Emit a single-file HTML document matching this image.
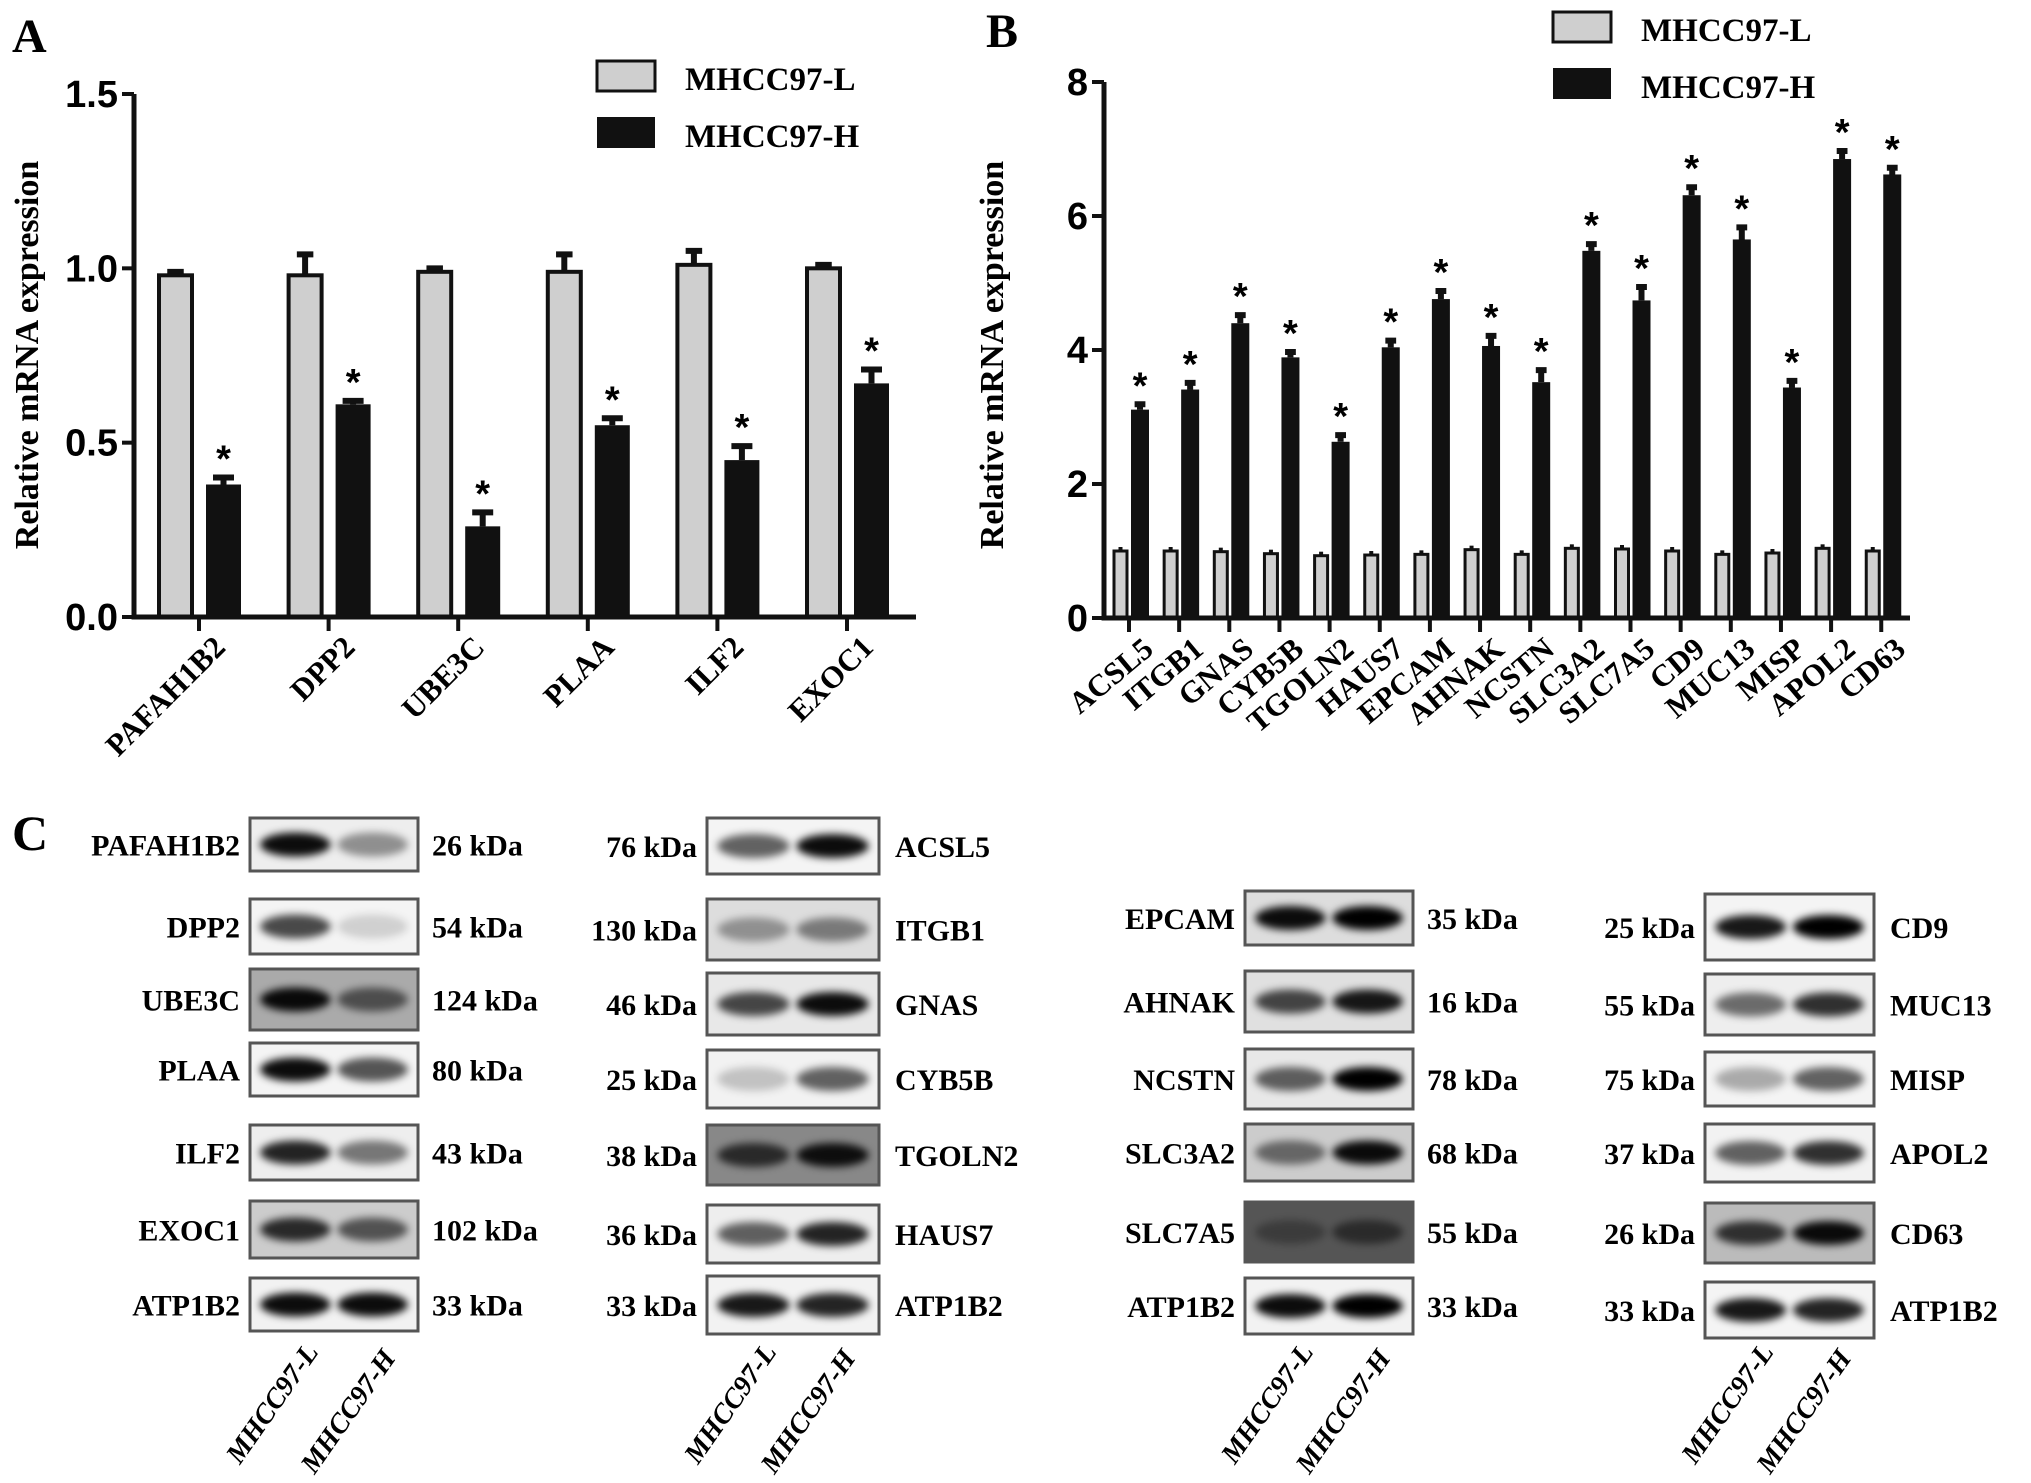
<!DOCTYPE html>
<html><head><meta charset="utf-8"><style>
html,body{margin:0;padding:0;background:#fff;}
svg{display:block;}
.serif{font-family:"Liberation Serif",serif;font-weight:bold;}
.sans{font-family:"Liberation Sans",sans-serif;font-weight:bold;}
</style></head><body>
<svg id="fig" width="2031" height="1483" viewBox="0 0 2031 1483" xmlns="http://www.w3.org/2000/svg">
<defs><filter id="blur" x="-50%" y="-100%" width="200%" height="300%"><feGaussianBlur stdDeviation="4"/></filter></defs>
<g id="panelA"></g>
<g id="panelB"></g>
<g id="panelC"></g>
</svg>
<script>
// Panel A data
const catsA = ["PAFAH1B2","DPP2","UBE3C","PLAA","ILF2","EXOC1"];
const lowA = [0.98,0.98,0.99,0.99,1.01,1.00];
const lowErrA = [0.01,0.06,0.01,0.05,0.04,0.01];
const highA = [0.38,0.61,0.26,0.55,0.45,0.67];
const highErrA = [0.02,0.01,0.04,0.02,0.04,0.04];
const ticksA = ["0.0","0.5","1.0","1.5"];
// Panel B data
const catsB = ["ACSL5","ITGB1","GNAS","CYB5B","TGOLN2","HAUS7","EPCAM","AHNAK","NCSTN","SLC3A2","SLC7A5","CD9","MUC13","MISP","APOL2","CD63"];
const lowB = [1.0,1.0,0.99,0.96,0.93,0.94,0.95,1.02,0.95,1.04,1.03,1.0,0.95,0.97,1.04,1.0];
const highB = [3.11,3.41,4.40,3.89,2.63,4.04,4.76,4.06,3.52,5.48,4.74,6.31,5.65,3.44,6.85,6.62];
const highErrB = [0.08,0.1,0.12,0.08,0.1,0.1,0.12,0.15,0.18,0.1,0.2,0.12,0.18,0.1,0.12,0.1];
const ticksB = ["0","2","4","6","8"];

const NS="http://www.w3.org/2000/svg";
function mk(parent,tag,attrs,text){const e=document.createElementNS(NS,tag);for(const k in attrs)e.setAttribute(k,attrs[k]);if(text!==undefined)e.textContent=text;parent.appendChild(e);return e;}

function drawChart(g,o){
  const y=v=>o.y0-(v/o.max)*(o.y0-o.y1);
  const x=i=>o.x0+o.step*i;
  o.cats.forEach((c,i)=>{
    const cx=x(i);
    const lt=y(o.low[i]);
    if(o.lowErr){const e=mk(g,'path',{d:`M${cx-o.gap-o.wL/2} ${lt}V${y(o.low[i]+o.lowErr[i])}M${cx-o.gap-o.wL/2-o.wL*0.25} ${y(o.low[i]+o.lowErr[i])}h${o.wL*0.5}`,stroke:'#111','stroke-width':6,fill:'none'});
      }
    else{const e=mk(g,'path',{d:`M${cx-o.gap-o.wL/2} ${lt}V${lt-4}`,stroke:'#111','stroke-width':4});}
    const b1=mk(g,'rect',{x:cx-o.gap-o.wL,y:lt,width:o.wL,height:o.y0-lt,fill:'#cfcfcf',stroke:'#111','stroke-width':o.sw});
    
    
    const ht=y(o.high[i]), he=y(o.high[i]+o.highErr[i]);
    const e2=mk(g,'path',{d:`M${cx+o.gap+o.wH/2} ${ht}V${he}M${cx+o.gap+o.wH*0.2} ${he}h${o.wH*0.6}`,stroke:'#111','stroke-width':6,fill:'none'});
    
    
    const b2=mk(g,'rect',{x:cx+o.gap,y:ht,width:o.wH,height:o.y0-ht,fill:'#111'});
    
    
    const st=mk(g,'text',{x:cx+o.gap+o.wH/2,y:he-6,'text-anchor':'middle',class:'sans','font-size':o.starSize},'*');
    
    
    const tk=mk(g,'line',{x1:cx,x2:cx,y1:o.y0,y2:o.y0+14,stroke:'#111','stroke-width':4});
    
    
    const lx=cx+o.lblDx, ly=o.y0+o.lblDy;
    const lb=mk(g,'text',{x:lx,y:ly,'text-anchor':'end',class:'serif','font-size':o.lblSize,transform:`rotate(${o.rot} ${lx} ${ly})`},c);
    
    
  });
  const ax=mk(g,'path',{d:`M${o.ax} ${o.y1}V${o.y0}H${o.xEnd}`,stroke:'#111','stroke-width':5,fill:'none'});
  
  
  o.ticks.forEach((t,i)=>{
    const ty=y(o.max*i/(o.ticks.length-1));
    const tl=mk(g,'line',{x1:o.ax-12,x2:o.ax,y1:ty,y2:ty,stroke:'#111','stroke-width':4});
    
    
    const tt=mk(g,'text',{x:o.ax-16,y:ty+13,'text-anchor':'end',class:'sans','font-size':38},t);
    
    
  });
  const yt=mk(g,'text',{x:o.ytx,y:o.yty,'text-anchor':'middle',class:'serif','font-size':34,transform:`rotate(-90 ${o.ytx} ${o.yty})`},'Relative mRNA expression');
  
  
  const lg=mk(g,'g',{});
  
  
  const r1=mk(lg,'rect',{x:o.lgx,y:o.lgy,width:58,height:30,fill:'#cfcfcf',stroke:'#111','stroke-width':3});
  
  
  const t1=mk(lg,'text',{x:o.lgx+88,y:o.lgy+29,class:'serif','font-size':33},'MHCC97-L');
  
  
  const r2=mk(lg,'rect',{x:o.lgx,y:o.lgy+56,width:58,height:31,fill:'#111'});
  
  
  const t2=mk(lg,'text',{x:o.lgx+88,y:o.lgy+86,class:'serif','font-size':33},'MHCC97-H');
  
  
  const pl=mk(g,'text',{x:o.plx,y:o.ply,class:'serif','font-size':48},o.letter);
  
  
}

drawChart(document.getElementById('panelA'),{cats:catsA,low:lowA,lowErr:lowErrA,high:highA,highErr:highErrA,ticks:ticksA,max:1.5,
  y0:617,y1:94,x0:199,step:129.6,ax:134,xEnd:916,wL:33,wH:35,gap:7,sw:4,starSize:38,lblDx:28,lblDy:32,lblSize:31,rot:-45,
  ytx:38,yty:355,lgx:597,lgy:61,plx:12,ply:52,letter:'A'});
drawChart(document.getElementById('panelB'),{cats:catsB,low:lowB,lowErr:null,high:highB,highErr:highErrB,ticks:ticksB,max:8,
  y0:618,y1:82,x0:1129,step:50.15,ax:1104,xEnd:1910,wL:13,wH:18,gap:2,sw:3,starSize:38,lblDx:26,lblDy:34,lblSize:31,rot:-40,
  ytx:1003,yty:355,lgx:1553,lgy:12,plx:986,ply:47,letter:'B'});

// Panel C western blots
const blotNames = ["PAFAH1B2","DPP2","UBE3C","PLAA","ILF2","EXOC1","ATP1B2","ACSL5","ITGB1","GNAS","CYB5B","TGOLN2","HAUS7","ATP1B2","EPCAM","AHNAK","NCSTN","SLC3A2","SLC7A5","ATP1B2","CD9","MUC13","MISP","APOL2","CD63","ATP1B2"];
const blotKda = ["26 kDa","54 kDa","124 kDa","80 kDa","43 kDa","102 kDa","33 kDa","76 kDa","130 kDa","46 kDa","25 kDa","38 kDa","36 kDa","33 kDa","35 kDa","16 kDa","78 kDa","68 kDa","55 kDa","33 kDa","25 kDa","55 kDa","75 kDa","37 kDa","26 kDa","33 kDa"];
const bandL = [0.95,0.7,0.95,0.95,0.85,0.8,0.95,0.6,0.35,0.7,0.2,0.7,0.6,0.9,0.95,0.7,0.6,0.5,0.3,0.95,0.9,0.55,0.3,0.6,0.75,0.9];
const bandH = [0.4,0.15,0.55,0.65,0.5,0.6,0.95,0.95,0.45,0.95,0.6,0.9,0.85,0.85,1.0,0.9,1.0,0.95,0.5,1.0,1.0,0.8,0.6,0.8,0.95,0.85];
const blotBg = ['#eee','#f4f4f4','#aaa','#f4f4f4','#eee','#ccc','#f2f2f2','#f4f4f4','#ddd','#e8e8e8','#f2f2f2','#888','#eee','#f2f2f2','#ddd','#e0e0e0','#e8e8e8','#ccc','#555','#f2f2f2','#f4f4f4','#eee','#f4f4f4','#f2f2f2','#bbb','#f4f4f4'];
const colX=[250,707,1245,1705], colW=[168,172,168,169];
const rows=[[818,871,899,954,969,1030,1043,1096,1125,1180,1201,1258,1278,1331],
            [818,874,899,960,973,1035,1050,1108,1125,1185,1205,1263,1276,1334],
            [891,945,971,1032,1049,1109,1124,1181,1202,1262,1278,1334],
            [894,960,974,1035,1052,1106,1124,1182,1203,1263,1282,1338]];
const gC=document.getElementById('panelC');
const cl=mk(gC,'text',{x:12,y:850,class:'serif','font-size':50},'C');


let idx=0;
for(let c=0;c<4;c++){
  const n=rows[c].length/2;
  for(let r=0;r<n;r++,idx++){
    const y0=rows[c][2*r], y1=rows[c][2*r+1], x0=colX[c], w=colW[c], h=y1-y0, cy=(y0+y1)/2;
    const bg=mk(gC,'g',{});
    
    
    mk(bg,'rect',{x:x0,y:y0,width:w,height:h,fill:blotBg[idx]});
    mk(bg,'ellipse',{cx:x0+w*0.27,cy:cy,rx:w*0.21,ry:Math.min(12,h*0.24),fill:'#000','fill-opacity':bandL[idx],filter:'url(#blur)'});
    mk(bg,'ellipse',{cx:x0+w*0.73,cy:cy,rx:w*0.21,ry:Math.min(12,h*0.24),fill:'#000','fill-opacity':bandH[idx],filter:'url(#blur)'});
    mk(bg,'rect',{x:x0,y:y0,width:w,height:h,fill:'none',stroke:'#555','stroke-width':3});
    const namesLeft=(c===0||c===2);
    const nt=mk(gC,'text',{x:namesLeft?x0-10:x0+w+16,y:cy+11,'text-anchor':namesLeft?'end':'start',class:'serif','font-size':30},blotNames[idx]);
    
    
    const kt=mk(gC,'text',{x:namesLeft?x0+w+14:x0-10,y:cy+11,'text-anchor':namesLeft?'start':'end',class:'serif','font-size':30},blotKda[idx]);
    
    
  }
  [['MHCC97-L',0.27],['MHCC97-H',0.73]].forEach(([t,f],k)=>{
    const lx=colX[c]+colW[c]*f+24, ly=1352+k*6;
    const e=mk(gC,'text',{x:lx,y:ly,'text-anchor':'end',transform:`rotate(-55 ${lx} ${ly})`,'font-family':'"Liberation Serif",serif','font-style':'italic','font-weight':'bold','font-size':28},t);
    
    
  });
}
</script>
</body></html>
